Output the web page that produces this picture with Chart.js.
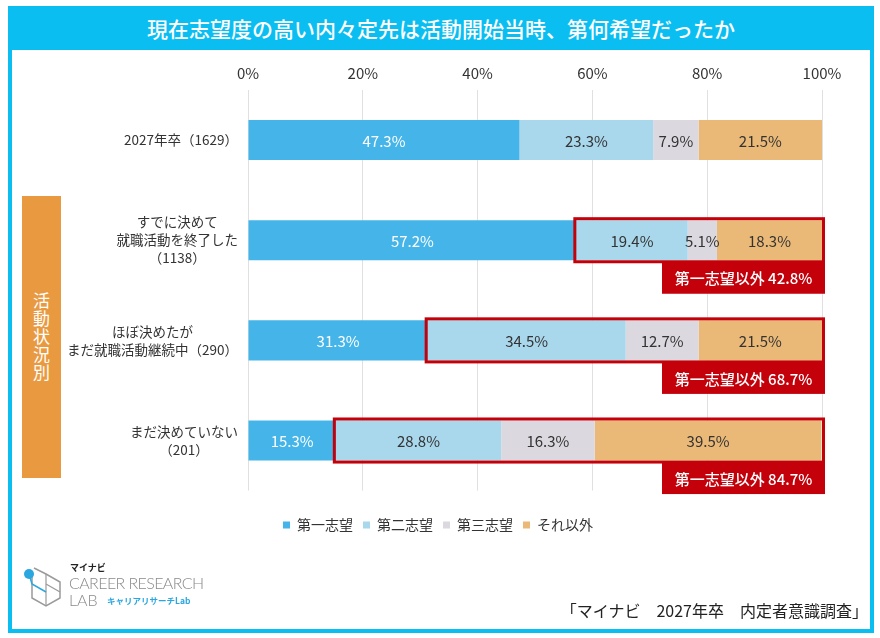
<!DOCTYPE html>
<html><head><meta charset="utf-8">
<script src="https://cdn.jsdelivr.net/npm/chart.js@4.4.1/dist/chart.umd.min.js"></script>
<style>
html,body{margin:0;padding:0;background:#fff;}
body{width:880px;height:638px;position:relative;overflow:hidden;font-family:"Noto Sans CJK JP","Noto Sans",sans-serif;}
#frame{position:absolute;left:8px;top:6px;width:858px;height:619px;border:4px solid #0ABEF2;}
#title{position:absolute;left:8px;top:6px;width:866px;height:44px;background:#0ABEF2;color:#fff;font-size:21px;line-height:44px;text-align:center;font-weight:500;z-index:2;}
#c{position:absolute;left:0;top:0;z-index:1;}
#side{position:absolute;left:22px;top:196px;width:39px;height:282px;background:#E99A40;color:#fff;z-index:2;display:flex;align-items:center;justify-content:center;}
#side span{writing-mode:vertical-rl;text-orientation:upright;font-size:17px;line-height:1;letter-spacing:1px;}
#foot{position:absolute;right:12px;top:598px;font-size:16px;color:#222;z-index:2;white-space:pre;}
.logo{position:absolute;z-index:2;white-space:nowrap;}
</style></head>
<body>
<div id="frame"></div>
<div id="title">現在志望度の高い内々定先は活動開始当時、第何希望だったか</div>
<div id="side"><span>活動状況別</span></div>
<canvas id="c" width="880" height="638"></canvas>
<svg class="logo" style="left:20px;top:562px" width="48" height="48" viewBox="0 0 48 48">
  <polyline points="12,14 12,36 26,44 40,36 40,20 26,12 14,6" fill="none" stroke="#9a9a9a" stroke-width="1.5"/>
  <polyline points="26,12 26,44" fill="none" stroke="#9a9a9a" stroke-width="1.2"/>
  <polyline points="26,22 40,30" fill="none" stroke="#9a9a9a" stroke-width="1.2"/>
  <polyline points="9,12 12,22 26,30" fill="none" stroke="#2BA7E0" stroke-width="1.5"/>
  <circle cx="9" cy="12" r="5" fill="#2BA7E0"/>
</svg>
<div class="logo" style="left:70px;top:561px;font-size:9px;font-weight:bold;color:#222;">マイナビ</div>
<div class="logo" style="left:69px;top:573px;font-size:16px;font-family:Lato,sans-serif;font-weight:300;color:#8a8a8a;letter-spacing:-0.6px;">CAREER RESEARCH</div>
<div class="logo" style="left:69px;top:590px;font-size:16px;font-family:Lato,sans-serif;font-weight:300;color:#8a8a8a;">LAB</div>
<div class="logo" style="left:107px;top:594px;font-size:8.5px;font-weight:bold;color:#2BA7E0;">キャリアリサーチLab</div>
<div id="foot">「マイナビ　2027年卒　内定者意識調査」</div>
<script>
const categories = [["2027年卒（1629）"],["すでに決めて","就職活動を終了した","（1138）"],["ほぼ決めたが","まだ就職活動継続中（290）"],["まだ決めていない","（201）"]];
const seriesNames = ["第一志望","第二志望","第三志望","それ以外"];
const firstChoice = [47.3,57.2,31.3,15.3];
const secondChoice = [23.3,19.4,34.5,28.8];
const thirdChoice = [7.9,5.1,12.7,16.3];
const otherChoice = [21.5,18.3,21.5,39.5];
const notFirstTotal = [null,42.8,68.7,84.7];
const calloutLabel = "第一志望以外";
const tickMax = 100, tickStep = 20;

const FONT = '"Noto Sans CJK JP","Noto Sans",sans-serif';
const colors = ['#45B5E9','#A9D7EC','#DCD8DF','#EBB977'];
const labelColors = ['#ffffff','#333333','#333333','#333333'];
const seriesData = [firstChoice, secondChoice, thirdChoice, otherChoice];

const overlay = {
  id:'overlay',
  afterDatasetsDraw(chart){
    const ctx = chart.ctx, ca = chart.chartArea;
    const xs = chart.scales.x, ys = chart.scales.y;
    ctx.save();
    ctx.font = '15px ' + FONT;
    ctx.textAlign = 'center'; ctx.textBaseline = 'middle';
    chart.data.datasets.forEach((ds, di) => {
      const meta = chart.getDatasetMeta(di);
      meta.data.forEach((el, i) => {
        const v = ds.data[i];
        if (v == null) return;
        ctx.fillStyle = labelColors[di];
        ctx.fillText(v.toFixed(1) + '%', (el.x + el.base) / 2, el.y + 1);
      });
    });
    ctx.fillStyle = '#333'; ctx.font = '13.5px ' + FONT;
    categories.forEach((lines, i) => {
      const yc = ys.getPixelForValue(i);
      const widest = Math.max(...lines.map(l => ctx.measureText(l).width));
      const cx = ca.left - 10 - widest / 2;
      lines.forEach((l, k) => {
        ctx.fillText(l, cx, yc + (k - (lines.length - 1) / 2) * 18);
      });
    });
    const meta0 = chart.getDatasetMeta(0);
    notFirstTotal.forEach((tot, i) => {
      if (tot == null) return;
      const el = meta0.data[i];
      const top = el.y - el.height / 2 - 1.5, bot = el.y + el.height / 2 + 1.5;
      const x0 = xs.getPixelForValue(firstChoice[i]) - 1.5;
      const x1 = xs.getPixelForValue(tickMax) + 1.5;
      ctx.strokeStyle = '#C4000A'; ctx.lineWidth = 3;
      ctx.strokeRect(x0, top, x1 - x0, bot - top);
      const w = 163, h = 32;
      ctx.fillStyle = '#C4000A';
      ctx.fillRect(x1 + 1.5 - w, bot, w, h);
      ctx.fillStyle = '#fff'; ctx.font = '500 15px ' + FONT;
      ctx.fillText(calloutLabel + ' ' + tot.toFixed(1) + '%', x1 + 1.5 - w / 2, bot + h / 2 + 1);
    });
    ctx.restore();
  }
};

new Chart(document.getElementById('c'), {
  type:'bar',
  data:{
    labels: categories,
    datasets: seriesNames.map((n, i) => ({label:n, data:seriesData[i], backgroundColor:colors[i], borderWidth:0, categoryPercentage:1, barPercentage:0.4}))
  },
  options:{
    indexAxis:'y', responsive:false, animation:false, devicePixelRatio:1,
    layout:{padding:{left:54,right:58,top:56,bottom:96}},
    scales:{
      x:{position:'top', stacked:true, min:0, max:tickMax,
         ticks:{stepSize:tickStep, callback:v => v + '%', color:'#333', font:{size:15, family:FONT}, padding:8},
         grid:{color:'#E0E0E0', drawTicks:false}, border:{display:false}},
      y:{stacked:true, display:true, ticks:{display:false}, grid:{display:false}, border:{display:false},
         afterFit(scale){ scale.width = 194; }}
    },
    plugins:{
      legend:{position:'bottom',
        title:{display:true, text:'', font:{size:2}, padding:{top:0, bottom:15}},
        labels:{boxWidth:7, boxHeight:7, padding:10, color:'#333', font:{size:14, family:FONT}}},
      tooltip:{enabled:false}
    }
  },
  plugins:[overlay]
});
</script>
</body></html>
